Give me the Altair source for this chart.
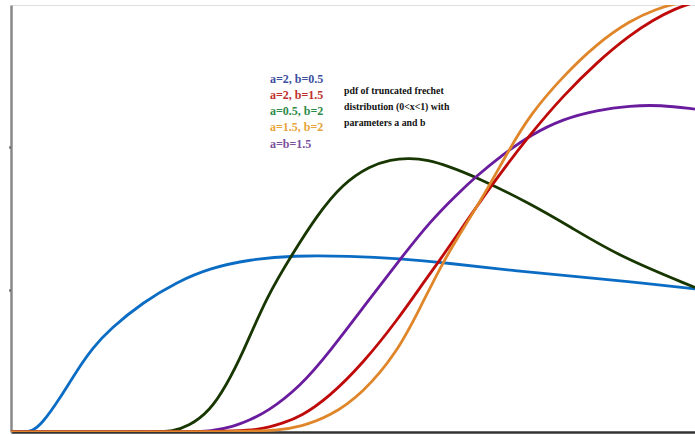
import altair as alt
import pandas as pd

# ---- data (x in 0..1, y = density) ----
blue_x = [0.0, 0.020, 0.030, 0.045, 0.072, 0.096, 0.120, 0.145, 0.193, 0.243, 0.291, 0.349, 0.412, 0.496, 0.569, 0.637, 0.734, 0.832, 0.900, 1.0]
blue_y = [0.0, 0.0, 0.005, 0.055, 0.240, 0.430, 0.595, 0.725, 0.912, 1.055, 1.152, 1.212, 1.240, 1.236, 1.218, 1.188, 1.133, 1.090, 1.058, 1.005]

green_x = [0.0, 0.215, 0.235, 0.260, 0.291, 0.315, 0.339, 0.374, 0.412, 0.447, 0.485, 0.525, 0.555, 0.583, 0.610, 0.637, 0.681, 0.759, 0.817, 0.890, 1.0]
green_y = [0.0, 0.0, 0.005, 0.040, 0.150, 0.330, 0.556, 0.953, 1.255, 1.520, 1.745, 1.870, 1.915, 1.925, 1.910, 1.872, 1.790, 1.605, 1.443, 1.232, 1.015]

purple_x = [0.0, 0.265, 0.291, 0.325, 0.349, 0.374, 0.423, 0.466, 0.520, 0.569, 0.613, 0.650, 0.681, 0.719, 0.759, 0.807, 0.857, 0.905, 0.949, 1.0]
purple_y = [0.0, 0.0, 0.005, 0.037, 0.085, 0.140, 0.320, 0.565, 0.908, 1.215, 1.480, 1.660, 1.800, 1.950, 2.085, 2.200, 2.262, 2.292, 2.298, 2.268]

red_x = [0.0, 0.310, 0.364, 0.398, 0.423, 0.466, 0.515, 0.564, 0.608, 0.623, 0.656, 0.703, 0.759, 0.807, 0.857, 0.905, 0.939, 0.971, 1.0]
red_y = [0.0, 0.0, 0.014, 0.063, 0.106, 0.249, 0.486, 0.780, 1.084, 1.180, 1.410, 1.739, 2.092, 2.361, 2.600, 2.790, 2.895, 2.975, 3.02]

orange_x = [0.0, 0.340, 0.393, 0.423, 0.466, 0.515, 0.564, 0.598, 0.632, 0.664, 0.697, 0.729, 0.759, 0.807, 0.857, 0.905, 0.942, 0.978, 1.0]
orange_y = [0.0, 0.0, 0.014, 0.037, 0.108, 0.275, 0.556, 0.870, 1.200, 1.450, 1.710, 1.990, 2.230, 2.500, 2.730, 2.890, 2.970, 3.02, 3.03]

series_names = ["a=2, b=0.5", "a=0.5, b=2", "a=b=1.5", "a=2, b=1.5", "a=1.5, b=2"]
series_x = [blue_x, green_x, purple_x, red_x, orange_x]
series_y = [blue_y, green_y, purple_y, red_y, orange_y]
line_colors = ["#0b6cc4", "#173600", "#6a1c9e", "#bf0a0a", "#e0862a"]

legend_labels = ["a=2, b=0.5", "a=2, b=1.5", "a=0.5, b=2", "a=1.5, b=2", "a=b=1.5"]
legend_colors = ["#3c4fa0", "#c0302c", "#2e8b4a", "#e8a43a", "#7b4f9d"]
note_lines = ["pdf of truncated frechet", "distribution (0<x<1) with", "parameters a and b"]

rows = []
for name, xs, ys in zip(series_names, series_x, series_y):
    for i, (xv, yv) in enumerate(zip(xs, ys)):
        rows.append({"series": name, "x": xv, "y": yv, "i": i})
df = pd.DataFrame(rows)

lines = alt.Chart(df).mark_line(interpolate="basis", strokeWidth=2.8, clip=True).encode(
    x=alt.X("x:Q", scale=alt.Scale(domain=[0, 1], nice=False, zero=False),
            axis=alt.Axis(labels=False, ticks=False, grid=False, title=None,
                          domainColor="#333333", domainWidth=2.5)),
    y=alt.Y("y:Q", scale=alt.Scale(domain=[0, 3], nice=False),
            axis=alt.Axis(labels=False, values=[1, 2], tickSize=2, tickWidth=2.5,
                          tickColor="#111111", grid=False, title=None,
                          domainColor="#888888", domainWidth=2.5)),
    color=alt.Color("series:N", scale=alt.Scale(domain=series_names, range=line_colors), legend=None),
    order="i:Q",
)

layers = [lines]
for k, (lab, col) in enumerate(zip(legend_labels, legend_colors)):
    layers.append(
        alt.Chart(pd.DataFrame({"t": [lab]})).mark_text(
            align="left", baseline="middle", font="Liberation Serif", fontWeight="bold",
            fontSize=12, color=col
        ).encode(text="t:N", x=alt.value(259), y=alt.value(73.5 + 16.3 * k))
    )
for k, lab in enumerate(note_lines):
    layers.append(
        alt.Chart(pd.DataFrame({"t": [lab]})).mark_text(
            align="left", baseline="middle", font="Liberation Serif", fontWeight="bold",
            fontSize=9.8, color="#111111"
        ).encode(text="t:N", x=alt.value(333), y=alt.value(86 + 16 * k))
    )

chart = alt.layer(*layers).properties(
    width=684, height=427,
    padding={"left": 11, "top": 5, "right": 0, "bottom": 3},
    autosize="none",
).configure_view(stroke="#888888", strokeWidth=2.5).configure(background="white")

chart.save("out.html", embed_options={"renderer": "svg", "actions": False})
